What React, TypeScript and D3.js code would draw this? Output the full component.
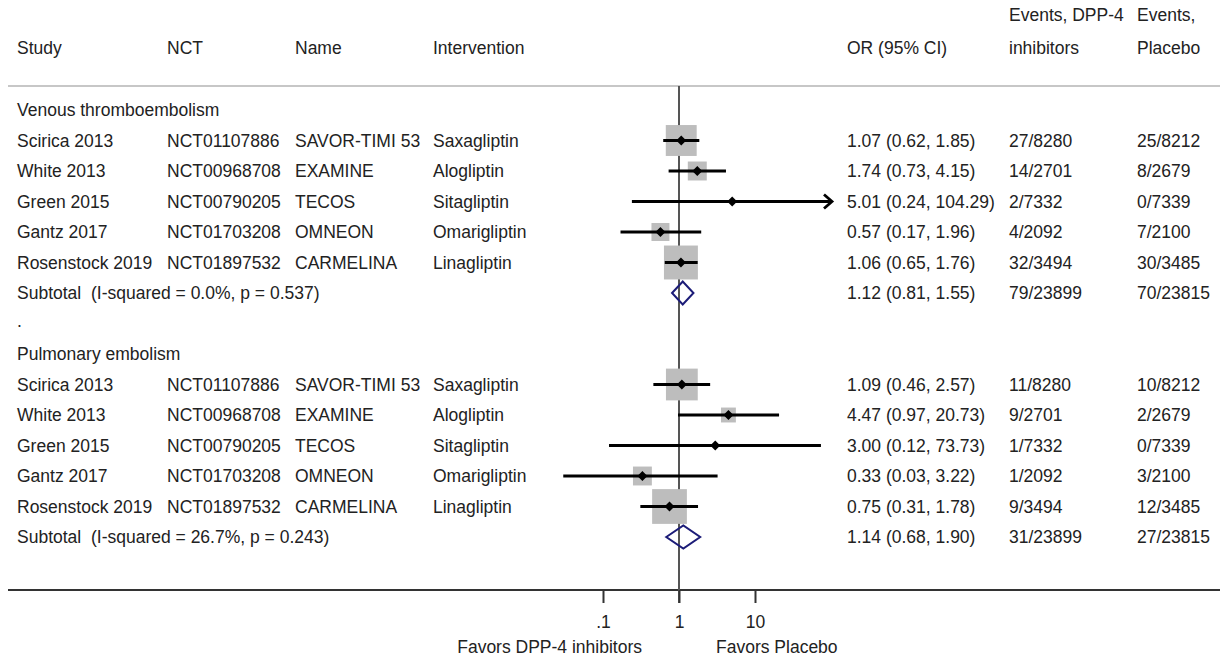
import React, { useRef, useEffect } from "react";
import * as d3 from "d3";

// study columns (same trials in both outcomes)
const studies = ["Scirica 2013", "White 2013", "Green 2015", "Gantz 2017", "Rosenstock 2019"];
const ncts = ["NCT01107886", "NCT00968708", "NCT00790205", "NCT01703208", "NCT01897532"];
const trialNames = ["SAVOR-TIMI 53", "EXAMINE", "TECOS", "OMNEON", "CARMELINA"];
const interventions = ["Saxagliptin", "Alogliptin", "Sitagliptin", "Omarigliptin", "Linagliptin"];

// Venous thromboembolism
const vteOR = [1.07, 1.74, 5.01, 0.57, 1.06];
const vteLow = [0.62, 0.73, 0.24, 0.17, 0.65];
const vteHigh = [1.85, 4.15, 104.29, 1.96, 1.76];
const vteWeight = [34, 12.8, 0.8, 11.5, 41];
const vteEventsDpp = ["27/8280", "14/2701", "2/7332", "4/2092", "32/3494"];
const vteEventsPlacebo = ["25/8212", "8/2679", "0/7339", "7/2100", "30/3485"];
const vteSubtotal = { or: 1.12, low: 0.81, high: 1.55, dpp: "79/23899", placebo: "70/23815", label: "Subtotal  (I-squared = 0.0%, p = 0.537)" };

// Pulmonary embolism
const peOR = [1.09, 4.47, 3.0, 0.33, 0.75];
const peLow = [0.46, 0.97, 0.12, 0.03, 0.31];
const peHigh = [2.57, 20.73, 73.73, 3.22, 1.78];
const peWeight = [36, 7.9, 0.6, 12.7, 43];
const peEventsDpp = ["11/8280", "9/2701", "1/7332", "1/2092", "9/3494"];
const peEventsPlacebo = ["10/8212", "2/2679", "0/7339", "3/2100", "12/3485"];
const peSubtotal = { or: 1.14, low: 0.68, high: 1.9, dpp: "31/23899", placebo: "27/23815", label: "Subtotal  (I-squared = 26.7%, p = 0.243)" };

const tickValues = [0.1, 1, 10];
const tickLabels = [".1", "1", "10"];
const xMax = 100; // CIs beyond this get an arrow

const W = 1220;
const H = 659;
const FONT = "'Liberation Sans', Arial, Helvetica, sans-serif";
const TEXT = "#222";

const col = { study: 17, nct: 167, name: 295, interv: 433, or: 847, dpp: 1009, placebo: 1137 };

const fmt = d3.format(".2f");

const App = () => {
  const axisRef = useRef(null);

  const x = d3.scaleLog().domain([0.1, 10]).range([603, 755]);
  const y = d3.scaleLinear().domain([0, 14]).range([110, 537]);
  const box = d3.scaleSqrt().domain([0, 100]).range([0, 53]);

  const sections = [
    { title: "Venous thromboembolism", start: 0, or: vteOR, low: vteLow, high: vteHigh, w: vteWeight, dpp: vteEventsDpp, pl: vteEventsPlacebo, sub: vteSubtotal },
    { title: "Pulmonary embolism", start: 8, or: peOR, low: peLow, high: peHigh, w: peWeight, dpp: peEventsDpp, pl: peEventsPlacebo, sub: peSubtotal },
  ];

  useEffect(() => {
    const g = d3.select(axisRef.current);
    g.selectAll("*").remove();
    g.attr("transform", "translate(0,590)")
      .call(
        d3.axisBottom(x)
          .tickValues(tickValues)
          .tickFormat((d, i) => tickLabels[i])
          .tickSize(13)
          .tickPadding(13)
      );
    g.select(".domain").remove();
    g.selectAll(".tick line").attr("stroke", "#333").attr("stroke-width", 2);
    g.selectAll(".tick text")
      .attr("fill", TEXT)
      .style("font-family", FONT)
      .style("font-size", "17.5px");
  }, []);

  const txt = (s, xx, yy, anchor = "start") => (
    <text x={xx} y={yy} dy="0.35em" textAnchor={anchor} style={{ whiteSpace: "pre" }}>{s}</text>
  );

  return (
    <svg width={W} height={H} style={{ position: "absolute", left: 0, top: 0, background: "#fff" }}>
      <g fontFamily={FONT} fontSize="17.5px" fill={TEXT}>
        {/* header */}
        {txt("Study", col.study, 48)}
        {txt("NCT", col.nct, 48)}
        {txt("Name", col.name, 48)}
        {txt("Intervention", col.interv, 48)}
        {txt("OR (95% CI)", col.or, 48)}
        {txt("Events, DPP-4", col.dpp, 15)}
        {txt("inhibitors", col.dpp, 48)}
        {txt("Events,", col.placebo, 15)}
        {txt("Placebo", col.placebo, 48)}

        {sections.map((s, si) => (
          <g key={si}>
            {txt(s.title, col.study, y(s.start))}
            {studies.map((st, i) => {
              const yy = y(s.start + 1 + i);
              return (
                <g key={i}>
                  {txt(st, col.study, yy)}
                  {txt(ncts[i], col.nct, yy)}
                  {txt(trialNames[i], col.name, yy)}
                  {txt(interventions[i], col.interv, yy)}
                  {txt(`${fmt(s.or[i])} (${fmt(s.low[i])}, ${fmt(s.high[i])})`, col.or, yy)}
                  {txt(s.dpp[i], col.dpp, yy)}
                  {txt(s.pl[i], col.placebo, yy)}
                </g>
              );
            })}
            {txt(s.sub.label, col.study, y(s.start + 6))}
            {txt(`${fmt(s.sub.or)} (${fmt(s.sub.low)}, ${fmt(s.sub.high)})`, col.or, y(s.start + 6))}
            {txt(s.sub.dpp, col.dpp, y(s.start + 6))}
            {txt(s.sub.placebo, col.placebo, y(s.start + 6))}
          </g>
        ))}
        {txt(".", col.study, y(7) - 3)}

        {txt("Favors DPP-4 inhibitors", x(1) - 37, 647, "end")}
        {txt("Favors Placebo", x(1) + 37, 647)}
      </g>

      {/* separators */}
      <line x1={8} x2={W} y1={86} y2={86} stroke="#b5b5b5" strokeWidth={1.5} />
      <line x1={8} x2={W} y1={590} y2={590} stroke="#333" strokeWidth={2} />
      <line x1={x(1)} x2={x(1)} y1={86} y2={603} stroke="#555" strokeWidth={2} />

      {/* markers */}
      {sections.map((s, si) => (
        <g key={si}>
          {s.or.map((v, i) => {
            const yy = y(s.start + 1 + i);
            const side = box(s.w[i]);
            const hi = Math.min(s.high[i], xMax);
            const clipped = s.high[i] > xMax;
            return (
              <g key={i}>
                <rect x={x(v) - side / 2} y={yy - side / 2} width={side} height={side} fill="#bdbdbd" />
                <line x1={x(s.low[i])} x2={x(hi)} y1={yy} y2={yy} stroke="#000" strokeWidth={2.8} />
                {clipped && (
                  <path d={`M${x(hi) - 7},${yy - 7}L${x(hi) + 1},${yy}L${x(hi) - 7},${yy + 7}`} fill="none" stroke="#000" strokeWidth={2.8} />
                )}
                <path d={`M${x(v)},${yy - 5}L${x(v) + 5},${yy}L${x(v)},${yy + 5}L${x(v) - 5},${yy}Z`} fill="#000" />
              </g>
            );
          })}
          {(() => {
            const yy = y(s.start + 6);
            return (
              <path
                d={`M${x(s.sub.low)},${yy}L${x(s.sub.or)},${yy - 11.5}L${x(s.sub.high)},${yy}L${x(s.sub.or)},${yy + 11.5}Z`}
                fill="none"
                stroke="#1c1c78"
                strokeWidth={2}
              />
            );
          })()}
        </g>
      ))}

      <g ref={axisRef}></g>
    </svg>
  );
};

export default App;
